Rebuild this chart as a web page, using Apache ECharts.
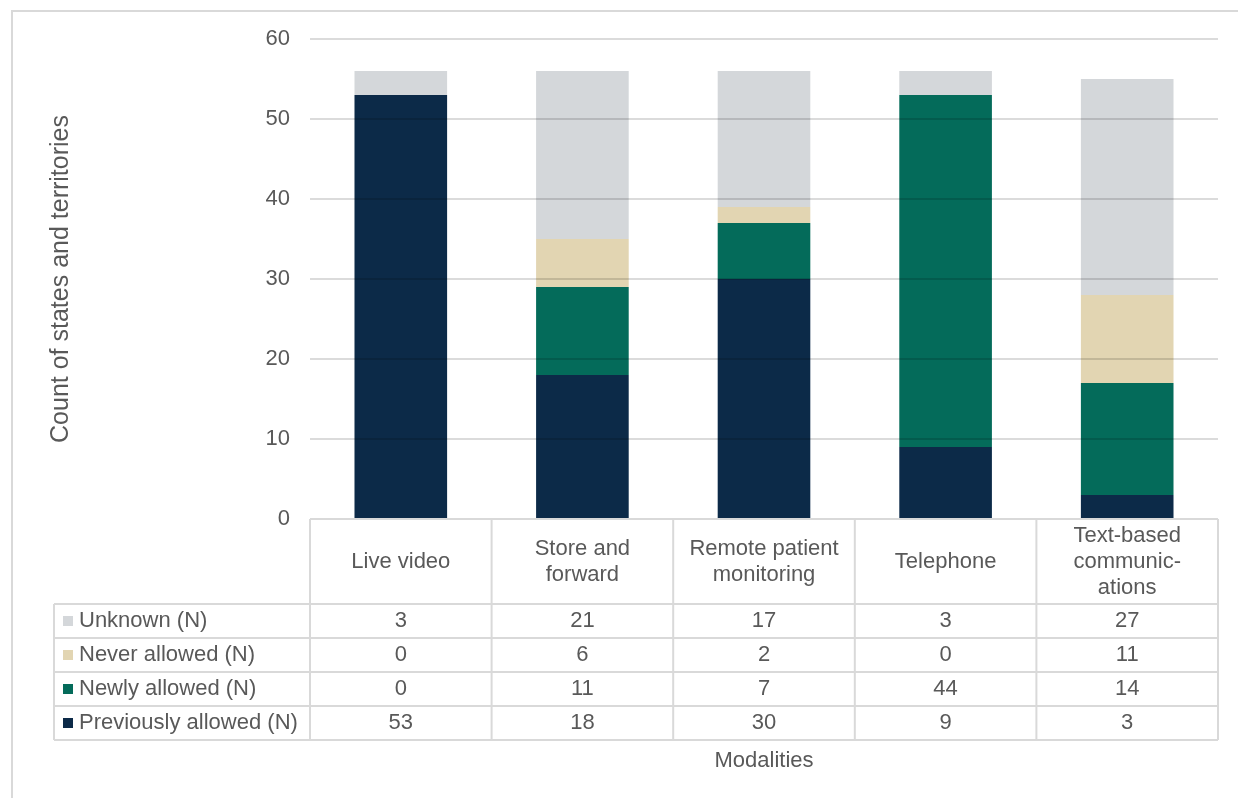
<!DOCTYPE html>
<html>
<head>
<meta charset="utf-8">
<script src="https://cdn.jsdelivr.net/npm/echarts@6/dist/echarts.min.js"></script>
<style>
  html, body { margin: 0; padding: 0; background: #ffffff; }
  #chart { width: 1238px; height: 798px; }
</style>
</head>
<body>
<div id="chart"></div>
<script>
// Telehealth modalities allowed, by state and territory count
const modalities = ['Live video', 'Store and\nforward', 'Remote patient\nmonitoring', 'Telephone', 'Text-based\ncommunic-\nations'];
const previouslyAllowed = [53, 18, 30, 9, 3];
const newlyAllowed = [0, 11, 7, 44, 14];
const neverAllowed = [0, 6, 2, 0, 11];
const unknown = [3, 21, 17, 3, 27];

const seriesNames = ['Previously allowed (N)', 'Newly allowed (N)', 'Never allowed (N)', 'Unknown (N)'];
const seriesData = [previouslyAllowed, newlyAllowed, neverAllowed, unknown];
const seriesColors = ['#0c2a48', '#046b5a', '#e2d5b2', '#d4d7da'];

const FONT = '"Liberation Sans", Arial, sans-serif';
const TEXT = '#595959';
const RULE = '#d9d9d9';

const chart = echarts.init(document.getElementById('chart'), null, { renderer: 'canvas' });

const option = {
  animation: false,
  backgroundColor: '#ffffff',
  textStyle: { fontFamily: FONT },
  grid: { left: 310, right: 20, top: 39, bottom: 279, containLabel: false },
  xAxis: {
    type: 'category',
    data: modalities,
    axisLine: { show: false },
    axisTick: { show: false },
    axisLabel: { show: false },
    name: 'Modalities',
    nameLocation: 'middle',
    nameGap: 231,
    nameTextStyle: { fontSize: 22, color: TEXT, fontFamily: FONT }
  },
  yAxis: {
    type: 'value',
    min: 0,
    max: 60,
    interval: 10,
    z: 5,
    axisLine: { show: false },
    axisTick: { show: false },
    axisLabel: { fontSize: 22, color: TEXT, margin: 20, fontFamily: FONT },
    splitLine: { lineStyle: { color: 'rgba(0,0,0,0.14)', width: 2 } },
    name: 'Count of states and territories',
    nameLocation: 'middle',
    nameGap: 236,
    nameTextStyle: { fontSize: 25, color: TEXT, fontFamily: FONT }
  },
  series: seriesNames.map((name, i) => ({
    name: name,
    type: 'bar',
    stack: 'total',
    barWidth: '51%',
    data: seriesData[i],
    itemStyle: { color: seriesColors[i] }
  }))
};

chart.setOption(option);

// Data table beneath the plot, aligned to the category axis
function buildTable() {
  const n = modalities.length;
  const c0 = chart.convertToPixel({ xAxisIndex: 0 }, 0);
  const c1 = chart.convertToPixel({ xAxisIndex: 0 }, 1);
  const colW = c1 - c0;
  const left = c0 - colW / 2;
  const right = left + colW * n;
  const yBase = chart.convertToPixel({ yAxisIndex: 0 }, 0);
  const headH = 85;
  const rowH = 34;
  const tableLeft = 54;
  const rowsTop = yBase + headH;
  const rowOrder = [3, 2, 1, 0]; // Unknown, Never, Newly, Previously
  const bottom = rowsTop + rowH * rowOrder.length;

  const els = [];
  const line = (x1, y1, x2, y2) => els.push({
    type: 'line', z: 10, silent: true,
    shape: { x1, y1, x2, y2 },
    style: { stroke: RULE, lineWidth: 2 }
  });
  const text = (str, x, y, align, size) => els.push({
    type: 'text', z: 11, silent: true,
    style: {
      text: str, x, y, align: align, verticalAlign: 'middle',
      fontSize: size || 22, fontFamily: FONT, fill: TEXT, lineHeight: 26
    }
  });

  // outer frame
  els.push({
    type: 'rect', z: 0, silent: true,
    shape: { x: 12, y: 11, width: 1260, height: 820 },
    style: { fill: 'none', stroke: RULE, lineWidth: 2 }
  });

  // header row
  line(left, yBase, right, yBase);
  for (let i = 0; i <= n; i++) {
    const x = left + colW * i;
    line(x, yBase, x, bottom);
  }
  modalities.forEach((m, i) => text(m, left + colW * (i + 0.5), yBase + headH / 2, 'center'));

  // value rows
  line(tableLeft, rowsTop, tableLeft, bottom);
  for (let r = 0; r <= rowOrder.length; r++) {
    line(tableLeft, rowsTop + rowH * r, right, rowsTop + rowH * r);
  }
  rowOrder.forEach((s, r) => {
    const cy = rowsTop + rowH * (r + 0.5);
    els.push({
      type: 'rect', z: 11, silent: true,
      shape: { x: 63, y: cy - 5, width: 10, height: 10 },
      style: { fill: seriesColors[s] }
    });
    text(seriesNames[s], 79, cy, 'left');
    seriesData[s].forEach((v, i) => text(String(v), left + colW * (i + 0.5), cy, 'center'));
  });

  chart.setOption({ graphic: { elements: els } });
}

buildTable();
</script>
</body>
</html>
